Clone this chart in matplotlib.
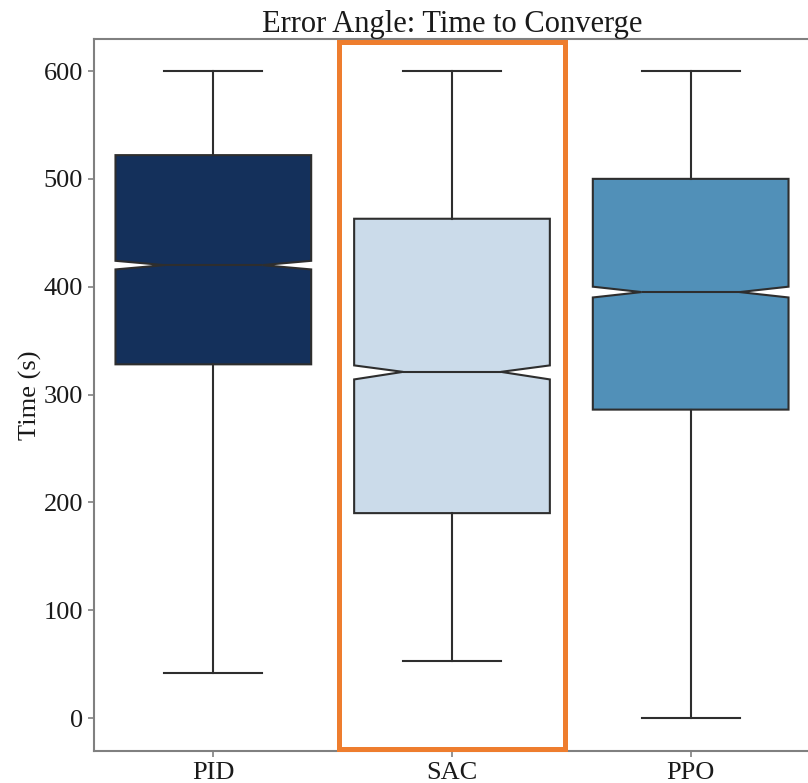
import matplotlib
matplotlib.use("Agg")
import matplotlib.pyplot as plt
from matplotlib.patches import Rectangle
import matplotlib.transforms as mtransforms

# Summary statistics per controller (seconds)
controllers = ["PID", "SAC", "PPO"]
medians = [420, 321, 395]
q1s = [328, 190, 286]
q3s = [522, 463, 500]
whisker_low = [42, 53, 0]
whisker_high = [600, 600, 600]
ci_low = [416, 314, 390]
ci_high = [424, 327, 400]
box_colors = ["#14305B", "#CBDBEA", "#5190B8"]
highlight = "SAC"

plt.rcParams["font.family"] = ["Liberation Serif", "DejaVu Serif"]

fig = plt.figure(figsize=(8.08, 7.83), dpi=100)
ax = fig.add_axes([94 / 808, 1 - 751 / 783, 716 / 808, 712 / 783])

stats = []
for name, med, q1, q3, lo, hi, cl, ch in zip(controllers, medians, q1s, q3s,
                                            whisker_low, whisker_high, ci_low, ci_high):
    stats.append(dict(label=name, med=med, q1=q1, q3=q3, whislo=lo, whishi=hi,
                      cilo=cl, cihi=ch, fliers=[]))

edge = "#2e2e2e"
lw = 1.5
bp = ax.bxp(stats, positions=range(len(stats)), widths=0.82, capwidths=0.41,
            shownotches=True, showfliers=False, patch_artist=True,
            boxprops=dict(edgecolor=edge, linewidth=lw),
            whiskerprops=dict(color=edge, linewidth=lw),
            capprops=dict(color=edge, linewidth=lw),
            medianprops=dict(color=edge, linewidth=lw))
for patch, c in zip(bp["boxes"], box_colors):
    patch.set_facecolor(c)

ax.set_xlim(-0.5, len(controllers) - 0.5)
ax.set_ylim(-30.6, 629.7)
ax.set_yticks([0, 100, 200, 300, 400, 500, 600])
ax.set_xticks(range(len(controllers)))
ax.set_xticklabels(controllers)

for s in ax.spines.values():
    s.set_color("#808080")
    s.set_linewidth(1.5)
ax.tick_params(axis="both", labelsize=19, colors="#808080", labelcolor="#1a1a1a",
               length=4, width=1.2, pad=4)

ax.set_ylabel("Time (s)", fontsize=19, color="#1a1a1a", labelpad=1)
ax.set_title("Error Angle: Time to Converge", fontsize=22, color="#1a1a1a", pad=4)

# Outline the highlighted controller
hi_idx = controllers.index(highlight)
trans = mtransforms.blended_transform_factory(ax.transData, ax.transAxes)
ax.add_patch(Rectangle((hi_idx - 0.473, 0.003), 0.946, 0.993, transform=trans,
                       fill=False, edgecolor="#EE7D2E", linewidth=3.6,
                       clip_on=False, zorder=5))

fig.savefig("out.png", dpi=100)
